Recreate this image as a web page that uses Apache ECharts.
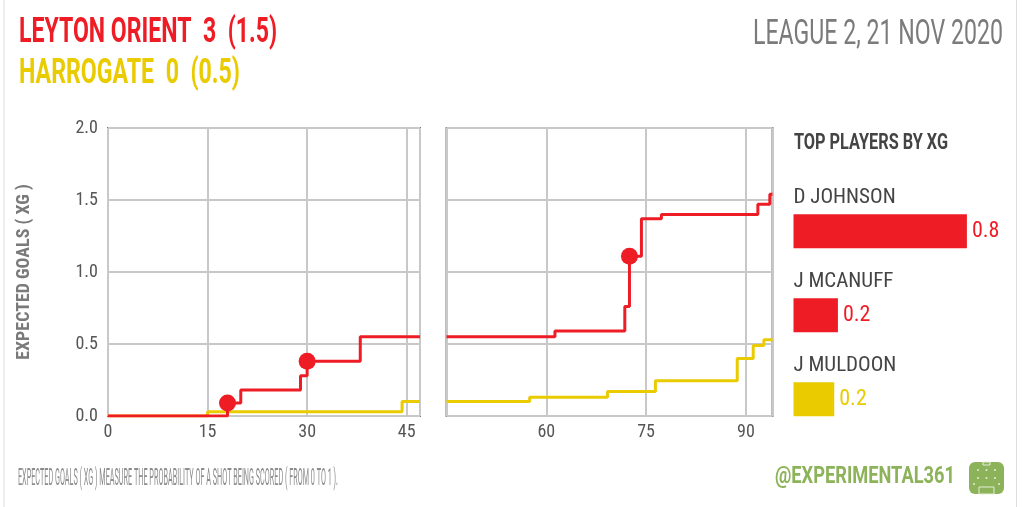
<!DOCTYPE html>
<html><head><meta charset="utf-8">
<script src="https://cdn.jsdelivr.net/npm/echarts@6/dist/echarts.min.js"></script>
<style>html,body{margin:0;padding:0;background:#fff}#c{width:1023px;height:507px}</style>
</head><body><div id="c"></div>
<script>
// ---------------- data ----------------
const homeTeam = 'LEYTON ORIENT';
const awayTeam = 'HARROGATE';
const homeScore = 3, awayScore = 0;
const homeXG = '1.5', awayXG = '0.5';
const matchInfo = 'LEAGUE 2, 21 NOV 2020';
const footnote = 'EXPECTED GOALS ( XG ) MEASURE THE PROBABILITY OF A SHOT BEING SCORED ( FROM 0 TO 1 ).';
const credit = '@EXPERIMENTAL361';
const yAxisTitle = 'EXPECTED GOALS ( XG )';
const playersTitle = 'TOP PLAYERS BY XG';
const xTicksFirst = [0, 15, 30, 45];
const xTicksSecond = [60, 75, 90];
const yTicks = [0, 0.5, 1.0, 1.5, 2.0];
// cumulative xG [minute, xG]
const homeFirstHalf = [[0,0],[18,0.09],[20,0.18],[29,0.28],[30,0.38],[38,0.55],[47,0.55]];
const awayFirstHalf = [[0,0],[15,0.03],[44.3,0.10],[47,0.10]];
const homeGoalsFirstHalf = [[18,0.09],[30,0.38]];
const homeSecondHalf = [[45,0.55],[61.3,0.59],[71.8,0.76],[72.5,1.11],[74.3,1.37],[77.3,1.40],[91.8,1.47],[93.6,1.54],[94,1.54]];
const awaySecondHalf = [[45,0.10],[57.5,0.13],[69.2,0.17],[76.4,0.245],[88.7,0.40],[91.1,0.49],[92.7,0.53],[94,0.53]];
const homeGoalsSecondHalf = [[72.5,1.11]];
const players = ['D JOHNSON', 'J MCANUFF', 'J MULDOON'];
const playerXG = [0.8, 0.205, 0.188];
const playerTeam = ['home', 'home', 'away'];

// ---------------- style ----------------
const RED = '#ee1c25', YEL = '#e9cb00', GREEN = '#8db35a';
const ctx = document.createElement('canvas').getContext('2d');
function has(f){
  const s='abcdefghijklmnopqrstuvwxyzABCDEFGHIJ0123456789';
  ctx.font='40px monospace'; const a=ctx.measureText(s).width;
  ctx.font='40px "'+f+'", monospace'; const b=ctx.measureText(s).width;
  return a!==b;
}
const COND = ['Roboto Condensed','Liberation Sans Narrow','DejaVu Sans Condensed','Roboto'].find(has) || 'sans-serif';
const WIDE = has('Roboto') ? 'Roboto' : COND;
function fitText(text, x, cy, width, size, weight, color, family){
  family = family || WIDE;
  ctx.font = weight + ' ' + size + 'px "' + family + '"';
  const w = ctx.measureText(text).width;
  return {type:'text', x:x, y:cy, scaleX: width / w, silent:true,
    style:{text:text, fill:color, fontSize:size, fontWeight:weight, fontFamily:family, align:'left', verticalAlign:'middle'}};
}

const axisLabelStyle = {color:'#555', fontSize:18, fontFamily:COND};
function xAxisCfg(grid, min, max, first){
  return {type:'value', gridIndex:grid, min:min, max:max, interval:15,
    axisLine:{show:false}, axisTick:{show:false},
    axisLabel:Object.assign({margin:7, showMinLabel:first, showMaxLabel:false}, axisLabelStyle),
    splitLine:{show:true, lineStyle:{color:'#c8c8c8', width:2}}};
}
function yAxisCfg(grid, showLabels){
  const c = {type:'value', gridIndex:grid, min:0, max:2, interval:0.5,
    axisLine:{show:false}, axisTick:{show:false},
    axisLabel:Object.assign({show:showLabels, margin:10, formatter:v=>v.toFixed(1)}, axisLabelStyle),
    splitLine:{show:true, lineStyle:{color:'#c8c8c8', width:2}}};
  if (showLabels){
    c.name = yAxisTitle; c.nameLocation='middle'; c.nameGap=75;
    c.nameTextStyle={color:'#7a7a7a', fontSize:18, fontWeight:'bold', fontFamily:COND};
  }
  return c;
}
function stepLine(data, color, grid, z){
  return {type:'line', xAxisIndex:grid, yAxisIndex:grid, data:data, step:'end', symbol:'none',
    lineStyle:{color:color, width:3}, z:z, animation:false, silent:true};
}
function goals(data, grid){
  return {type:'scatter', xAxisIndex:grid, yAxisIndex:grid, data:data, symbolSize:17,
    itemStyle:{color:RED, opacity:1}, z:10, animation:false, silent:true};
}

const teamColor = t => t==='home' ? RED : YEL;
const barData = playerXG.map((v,i)=>({value:v, itemStyle:{color:teamColor(playerTeam[i])},
  label:{color:teamColor(playerTeam[i])}}));

const graphics = [
  {type:'line', shape:{x1:4,y1:0,x2:4,y2:507}, style:{stroke:'#dcdcdc', lineWidth:1}, silent:true},
  {type:'line', shape:{x1:1016.5,y1:0,x2:1016.5,y2:507}, style:{stroke:'#dcdcdc', lineWidth:1}, silent:true},
  fitText(homeTeam + '  ' + homeScore + '  (' + homeXG + ')', 19, 33, 258, 35, 'bold', RED),
  fitText(awayTeam + '  ' + awayScore + '  (' + awayXG + ')', 19, 74.5, 221, 35, 'bold', YEL),
  fitText(matchInfo, 753, 35.5, 250, 35, 'normal', '#7b7b7b'),
  fitText(playersTitle, 794, 143, 154, 22, 'bold', '#444'),
  fitText(footnote, 18, 478.5, 320, 24, 'normal', '#8c8c8c'),
  fitText(credit, 775, 477, 180, 23, 'bold', GREEN),
  {type:'group', x:969, y:462, silent:true, children:[
    {type:'rect', shape:{x:0,y:0,width:35,height:32,r:6}, style:{fill:GREEN}},
    {type:'rect', shape:{x:10,y:25,width:15,height:7}, style:{fill:'none', stroke:'#e4eed6', lineWidth:1}},
    {type:'circle', shape:{cx:9,cy:8,r:1}, style:{fill:'#e4eed6'}},
    {type:'circle', shape:{cx:17.5,cy:8,r:1}, style:{fill:'#e4eed6'}},
    {type:'circle', shape:{cx:26,cy:8,r:1}, style:{fill:'#e4eed6'}},
    {type:'circle', shape:{cx:9,cy:16,r:1}, style:{fill:'#e4eed6'}},
    {type:'circle', shape:{cx:17.5,cy:16,r:1}, style:{fill:'#e4eed6'}},
    {type:'circle', shape:{cx:26,cy:16,r:1}, style:{fill:'#e4eed6'}},
    {type:'circle', shape:{cx:5,cy:22,r:1}, style:{fill:'#e4eed6'}},
    {type:'circle', shape:{cx:30,cy:22,r:1}, style:{fill:'#e4eed6'}},
    {type:'rect', shape:{x:14,y:0,width:7,height:3}, style:{fill:'none', stroke:'#e4eed6', lineWidth:1}}
  ]}
];

const option = {
  backgroundColor:'#fff',
  animation:false,
  grid:[
    {left:108, top:128, width:312, height:288, show:true, borderColor:'#7a7a7a', borderWidth:2, backgroundColor:'transparent'},
    {left:446.5, top:128, width:326, height:288, show:true, borderColor:'#7a7a7a', borderWidth:2, backgroundColor:'transparent'},
    {left:793.5, top:189.3, width:216.75, height:252}
  ],
  xAxis:[
    xAxisCfg(0, 0, 47, true),
    xAxisCfg(1, 45, 94, false),
    {type:'value', gridIndex:2, min:0, max:1, show:false}
  ],
  yAxis:[
    yAxisCfg(0, true),
    yAxisCfg(1, false),
    {type:'category', gridIndex:2, data:players, inverse:true, show:false}
  ],
  series:[
    stepLine(awayFirstHalf, YEL, 0, 3),
    stepLine(homeFirstHalf, RED, 0, 4),
    goals(homeGoalsFirstHalf, 0),
    stepLine(awaySecondHalf, YEL, 1, 3),
    stepLine(homeSecondHalf, RED, 1, 4),
    goals(homeGoalsSecondHalf, 1),
    {type:'bar', xAxisIndex:2, yAxisIndex:2, data:barData, barWidth:34, silent:true,
      label:{show:true, position:'right', distance:5, fontSize:22, fontFamily:COND,
        formatter:p=>p.value.toFixed(1)}},
    {type:'bar', xAxisIndex:2, yAxisIndex:2, data:playerXG, barWidth:34, barGap:'-100%', silent:true,
      itemStyle:{color:'rgba(0,0,0,0)'},
      label:{show:true, position:[0,-17], align:'left', verticalAlign:'middle', color:'#444',
        fontSize:21, fontFamily:COND, formatter:p=>players[p.dataIndex]}}
  ],
  graphic:graphics
};
const chart = echarts.init(document.getElementById('c'), null, {renderer:'canvas'});
chart.setOption(option);
</script>
</body></html>
